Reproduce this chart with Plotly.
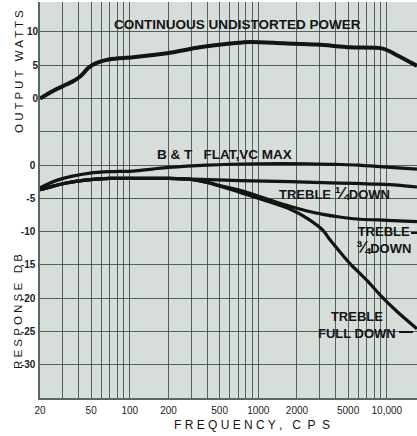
import math
import plotly.graph_objects as go

# ---------------- data ----------------
# Continuous undistorted power output (watts) versus frequency (c/s)
power_freq = [20, 25, 32, 37, 41, 44, 47, 52, 58, 70, 106, 195, 350, 635, 860, 1560, 2860, 5170, 9340, 12000, 17180]
power_watts = [0, 1.1, 2.1, 2.7, 3.3, 3.9, 4.5, 5.1, 5.5, 5.9, 6.2, 6.8, 7.7, 8.3, 8.5, 8.3, 8.1, 7.7, 7.5, 6.5, 4.9]

# Frequency response (dB), bass & treble flat, volume control max
flat_freq = [20, 27, 35, 49, 70, 106, 150, 200, 400, 1000, 2400, 4000, 6000, 10000, 17180]
flat_db = [-3.4, -2.3, -1.7, -1.2, -1.0, -0.9, -0.6, -0.35, 0.0, 0.2, 0.2, 0.1, 0.0, -0.3, -0.6]

# Treble control 1/4 down
quarter_freq = [20, 25, 32, 49, 70, 106, 200, 300, 720, 1760, 4300, 7800, 12000, 17180]
quarter_db = [-3.7, -3.2, -2.7, -2.2, -2.0, -2.0, -2.0, -2.1, -2.35, -2.5, -2.7, -2.85, -3.0, -3.3]

# Treble control 3/4 down
three_q_freq = [20, 25, 32, 49, 70, 106, 200, 300, 400, 530, 720, 980, 1300, 1760, 2400, 3190, 4300, 5860, 10000, 17180]
three_q_db = [-3.7, -3.2, -2.7, -2.2, -2.0, -2.0, -2.0, -2.15, -2.6, -3.2, -3.8, -4.6, -5.4, -6.2, -6.9, -7.4, -7.8, -8.1, -8.3, -8.5]

# Treble control full down
full_freq = [20, 25, 32, 49, 70, 106, 200, 300, 400, 720, 1300, 1760, 2400, 3190, 3600, 4300, 5170, 7070, 8850, 12000, 17180]
full_db = [-3.7, -3.2, -2.7, -2.2, -2.0, -2.0, -2.0, -2.15, -2.6, -4.1, -5.7, -6.6, -8.0, -9.8, -11.2, -13.0, -14.8, -17.4, -19.5, -22.0, -24.6]

# axis ticks
freq_labels = {20: "20", 50: "50", 100: "100", 200: "200", 500: "500",
               1000: "1000", 2000: "2000", 5000: "5000", 10000: "10,000"}
watt_ticks = [0, 5, 10]
db_grid = [-35, -30, -25, -20, -15, -10, -5, 0, 5, 10, 15, 20]
db_labels = {0: "0", -5: "-5", -10: "-10", -15: "-15", -20: "-20", -25: "-25", -30: "-30"}

# ---------------- styling ----------------
W, H = 417, 436
ML, MR, MT, MB = 40, 0, 2, 38
PAPER_BG = "#d7ddd9"
GRID = "rgba(38,64,54,0.78)"
INK = "#141414"
FONT = "Liberation Sans"

freq_grid = sorted({m * 10 ** d for d in (1, 2, 3, 4) for m in range(1, 10)
                    if 20 <= m * 10 ** d <= 10000})


def px(x):
    return (x - ML) / (W - ML - MR)


def py(y):
    return (H - MB - y) / (H - MT - MB)


fig = go.Figure()

line_style = dict(color=INK, width=3.2, shape="spline", smoothing=0.8)
for f, v in [(flat_freq, flat_db), (quarter_freq, quarter_db),
             (three_q_freq, three_q_db), (full_freq, full_db)]:
    fig.add_trace(go.Scatter(x=f, y=v, mode="lines", line=line_style,
                             hoverinfo="skip", showlegend=False, yaxis="y"))

fig.add_trace(go.Scatter(x=power_freq, y=power_watts, mode="lines",
                         line=dict(color=INK, width=4, shape="spline", smoothing=0.8),
                         hoverinfo="skip", showlegend=False, yaxis="y2"))

x_lo, x_hi = math.log10(20), math.log10(17180)
db_range = [-35, 24.5]
watt_range = [db_range[0] - 10, db_range[1] - 10]

fig.update_layout(
    width=W, height=H,
    margin=dict(l=ML, r=MR, t=MT, b=MB, pad=0),
    paper_bgcolor="white",
    plot_bgcolor=PAPER_BG,
    font=dict(family=FONT, color=INK),
    xaxis=dict(
        type="log", range=[x_lo, x_hi],
        tickvals=freq_grid,
        ticktext=[freq_labels.get(v, "") for v in freq_grid],
        showgrid=True, gridcolor=GRID, gridwidth=1,
        ticks="", ticklabelstandoff=2,
        tickfont=dict(size=10, family=FONT, color="#222"),
        showline=True, linecolor=GRID, linewidth=1.5, mirror=False,
        zeroline=False,
    ),
    yaxis=dict(
        range=db_range,
        tickvals=db_grid,
        ticktext=["<b>%s</b>" % db_labels[v] if v in db_labels else "" for v in db_grid],
        showgrid=True, gridcolor=GRID, gridwidth=1.3,
        ticks="", ticklabelstandoff=1,
        tickfont=dict(size=10, family=FONT, color="#222"),
        showline=True, linecolor=GRID, linewidth=1.5,
        zeroline=False,
    ),
    yaxis2=dict(
        range=watt_range, overlaying="y", side="left", anchor="x",
        tickvals=watt_ticks, ticktext=["<b>%d</b>" % v for v in watt_ticks],
        showgrid=False, ticks="", ticklabelstandoff=1,
        tickfont=dict(size=10, family=FONT, color="#222"),
        zeroline=False, showline=False,
    ),
)

FRAC = "<span style='font-size:17px'>%s</span>"

ann = []
# axis titles
ann.append(dict(text="O U T P U T   W A T T S", x=px(19), y=py(72), textangle=-90,
                font=dict(size=11.5, family=FONT, color=INK)))
ann.append(dict(text="R E S P O N S E   D B", x=px(18), y=py(312), textangle=-90,
                font=dict(size=11.5, family=FONT, color=INK)))
ann.append(dict(text="F R E Q U E N C Y ,   C  P  S", x=px(252), y=py(425),
                font=dict(size=12, family=FONT, color=INK)))
# curve labels
bold = dict(family=FONT, color=INK)
ann.append(dict(text="<b>CONTINUOUS UNDISTORTED POWER</b>", x=px(237), y=py(24),
                font=dict(size=13.5, **bold)))
ann.append(dict(text="<b>B &amp; T   FLAT,VC MAX</b>", x=px(224), y=py(154),
                font=dict(size=13.5, **bold)))
ann.append(dict(text="<b>TREBLE " + FRAC % "¼" + "DOWN</b>", x=px(334), y=py(193),
                font=dict(size=13, **bold)))
ann.append(dict(text="<b>TREBLE<br>" + FRAC % "¾" + "DOWN</b>", x=px(383), y=py(240),
                font=dict(size=13, **bold)))
ann.append(dict(text="<b>TREBLE<br>FULL DOWN</b>", x=px(357), y=py(325),
                font=dict(size=13, **bold)))

for a in ann:
    a.update(xref="paper", yref="paper", showarrow=False,
             xanchor="center", yanchor="middle")
fig.update_layout(annotations=ann)

# short leader strokes from the labels to their curves
for x0, x1, y in [(411, 417, 233), (399, 413, 332)]:
    fig.add_shape(type="line", xref="paper", yref="paper",
                  x0=px(x0), x1=px(x1), y0=py(y), y1=py(y),
                  line=dict(color=INK, width=2))

fig.write_html("out.html")
